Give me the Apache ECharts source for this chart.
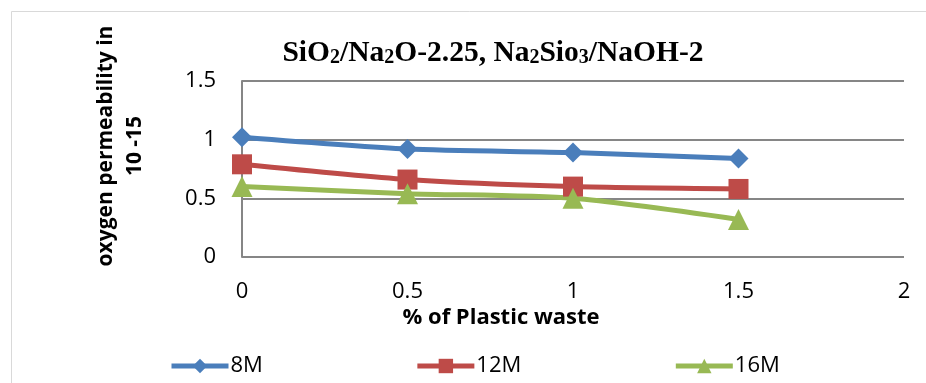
<!DOCTYPE html>
<html>
<head>
<meta charset="utf-8">
<script src="https://cdn.jsdelivr.net/npm/echarts@6/dist/echarts.min.js"></script>
<style>
  html, body { margin: 0; padding: 0; background: #fff; }
  #chart { width: 926px; height: 383px; }
</style>
</head>
<body>
<div id="chart"></div>
<script>
// Oxygen permeability vs. plastic waste content for three NaOH molarities
const plasticWaste = [0, 0.5, 1, 1.5];
const series8M  = [1.02, 0.92, 0.89, 0.84];
const series12M = [0.79, 0.66, 0.60, 0.58];
const series16M = [0.60, 0.54, 0.50, 0.32];
const seriesNames = ['8M', '12M', '16M'];
const xTicks = [0, 0.5, 1, 1.5, 2];
const yTicks = [0, 0.5, 1, 1.5];

const pairs = vals => plasticWaste.map((x, i) => [x, vals[i]]);

const chart = echarts.init(document.getElementById('chart'), null, { renderer: 'canvas' });

const sans = '"Open Sans", "Noto Sans", sans-serif';
const serif = '"Liberation Serif", "DejaVu Serif", serif';

function lineSeries(name, vals, color, symbol, size) {
  return {
    name: name,
    type: 'line',
    data: pairs(vals),
    smooth: 0.25,
    symbol: symbol,
    symbolSize: size,
    lineStyle: { color: color, width: 5 },
    itemStyle: { color: color },
    emphasis: { disabled: true },
    z: 3
  };
}

chart.setOption({
  animation: false,
  backgroundColor: '#ffffff',
  graphic: [
    {
      type: 'rect',
      shape: { x: 11.5, y: 11.5, width: 930, height: 400 },
      style: { fill: 'none', stroke: '#d9d9d9', lineWidth: 1 },
      silent: true
    },
    {
      // chart title with chemical subscripts
      type: 'text',
      x: 493,
      y: 51,
      style: {
        text: '{t|SiO}{s|2}{t|/Na}{s|2}{t|O-2.25, Na}{s|2}{t|Sio}{s|3}{t|/NaOH-2}',
        align: 'center',
        verticalAlign: 'middle',
        rich: {
          t: { fontFamily: serif, fontWeight: 'bold', fontSize: 29.5, fill: '#000', verticalAlign: 'bottom', lineHeight: 34 },
          s: { fontFamily: serif, fontWeight: 'bold', fontSize: 20, fill: '#000', verticalAlign: 'bottom', lineHeight: 27 }
        }
      },
      silent: true
    },
    {
      type: 'text',
      x: 121,
      y: 146,
      rotation: Math.PI / 2,
      style: {
        text: 'oxygen permeability in\n10 -15',
        fontFamily: sans,
        fontWeight: 'bold',
        fontSize: 21,
        lineHeight: 29,
        fill: '#000',
        align: 'center',
        verticalAlign: 'middle'
      },
      silent: true
    },
    {
      type: 'text',
      x: 501,
      y: 318,
      style: {
        text: '% of Plastic waste',
        fontFamily: sans,
        fontWeight: 'bold',
        fontSize: 22,
        fill: '#000',
        align: 'center',
        verticalAlign: 'middle'
      },
      silent: true
    }
  ],
  legend: {
    data: seriesNames,
    left: 164,
    top: 350,
    itemWidth: 57,
    itemHeight: 18,
    itemGap: 152,
    lineStyle: { width: 5 },
    textStyle: { fontFamily: sans, fontSize: 22, color: '#000', padding: [0, 0, 0, -3] }
  },
  grid: { left: 242, right: 22, top: 81, bottom: 126 },
  xAxis: {
    type: 'value',
    min: 0,
    max: 2,
    interval: 0.5,
    axisLine: { show: false },
    axisTick: { show: false },
    splitLine: { show: false },
    axisLabel: {
      fontFamily: sans, fontSize: 22, color: '#000', margin: 24,
      formatter: v => (xTicks.includes(v) ? String(v) : '')
    }
  },
  yAxis: {
    type: 'value',
    min: 0,
    max: 1.5,
    interval: 0.5,
    axisLine: { show: true, lineStyle: { color: '#868686', width: 2 } },
    axisTick: { show: false },
    splitLine: { show: true, lineStyle: { color: '#868686', width: 2 } },
    axisLabel: {
      fontFamily: sans, fontSize: 22, color: '#000', margin: 26,
      formatter: v => (yTicks.includes(v) ? String(v) : '')
    }
  },
  series: [
    lineSeries('8M', series8M, '#4a7ebb', 'diamond', 20),
    lineSeries('12M', series12M, '#be4b48', 'rect', 20),
    lineSeries('16M', series16M, '#98b954', 'triangle', 21)
  ]
});
</script>
</body>
</html>
